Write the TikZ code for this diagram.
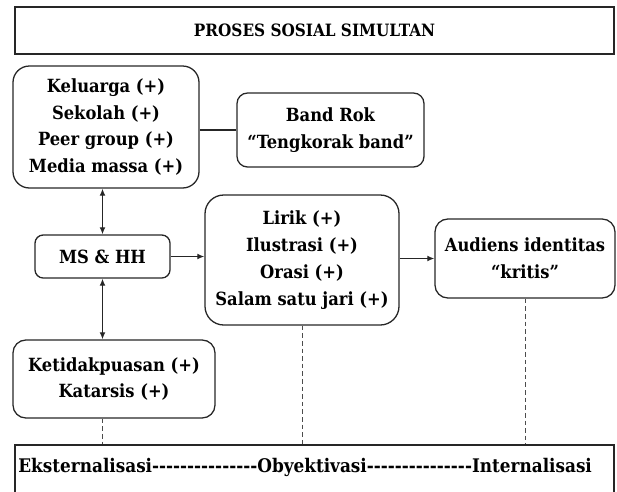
\documentclass[tikz,border=0pt]{standalone}
\usepackage{fontspec}
\setmainfont{DejaVu Serif Condensed}
\usetikzlibrary{arrows.meta}
\tikzset{
	box/.style = {draw = black!85, line width = 1.1pt, align = center, font = \fontsize{15.5}{23}\selectfont\bfseries, inner sep = 0pt},
	rbox/.style = {box, rounded corners = 11pt},
	link/.style = {draw = black!85, line width = 1.1pt, -{Latex[length = 6pt, width = 5pt]}},
	twolink/.style = {draw = black!85, line width = 1.1pt, {Latex[length = 6pt, width = 5pt]}-{Latex[length = 6pt, width = 5pt]}},
	phase/.style = {draw = black!70, thin, dash pattern = on 4pt off 2.5pt}
}
\newcommand{\dashrow}{-{}-{}-{}-{}-{}-{}-{}-{}-{}-{}-{}-{}-{}-{}-}
\begin{document}
\begin{tikzpicture}[x = 0.03cm, y = -0.03cm]
	\clip (0, 0) rectangle (617, 491);
	% title
	\node [box, font = \fontsize{14.5}{23}\selectfont\bfseries, minimum width = 599*0.03cm, minimum height = 47*0.03cm] (title) at (314.5, 30.5) {PROSES SOSIAL SIMULTAN};
	% left column
	\node [rbox, rounded corners = 14pt, minimum width = 186*0.03cm, minimum height = 122*0.03cm] (agen) at (106, 127) {Keluarga (+)\\Sekolah (+)\\Peer group (+)\\Media massa (+)};
	\node [rbox, rounded corners = 7pt, minimum width = 135*0.03cm, minimum height = 43*0.03cm] (ms) at (102.5, 256.5) {MS \& HH};
	\node [rbox, minimum width = 202*0.03cm, minimum height = 78*0.03cm] (keti) at (114, 379) {Ketidakpuasan (+)\\Katarsis (+)};
	% middle and right
	\node [rbox, rounded corners = 9pt, minimum width = 187*0.03cm, minimum height = 74*0.03cm] (band) at (330.5, 130) {Band Rok\\``Tengkorak band''};
	\node [rbox, rounded corners = 16pt, minimum width = 194*0.03cm, minimum height = 130*0.03cm] (lirik) at (302, 260) {Lirik (+)\\Ilustrasi (+)\\Orasi (+)\\Salam satu jari (+)};
	\node [rbox, minimum width = 180*0.03cm, minimum height = 79*0.03cm] (aud) at (525, 258.5) {Audiens identitas\\``kritis''};
	% phases
	\node [box, minimum width = 599*0.03cm, minimum height = 55*0.03cm] (fase) at (314.5, 472.5) {};
	\node [font = \fontsize{16}{23}\selectfont\bfseries, inner sep = 0pt] (fasetext) at (305, 467) {Eksternalisasi\dashrow Obyektivasi\dashrow Internalisasi};
	% connectors
	\draw [draw = black!85, line width = 1.1pt] (agen.east |- band) -- (band.west);
	\draw [twolink] (ms.north |- agen.south) -- (ms.north);
	\draw [twolink] (ms.south) -- (ms.south |- keti.north);
	\draw [link] (ms.east) -- (ms.east -| lirik.west);
	\draw [link] (lirik.east |- aud) -- (aud.west);
	\draw [phase] (ms.south |- keti.south) -- (ms.south |- fase.north);
	\draw [phase] (lirik.south) -- (lirik.south |- fase.north);
	\draw [phase] (aud.south) -- (aud.south |- fase.north);
\end{tikzpicture}
\end{document}
